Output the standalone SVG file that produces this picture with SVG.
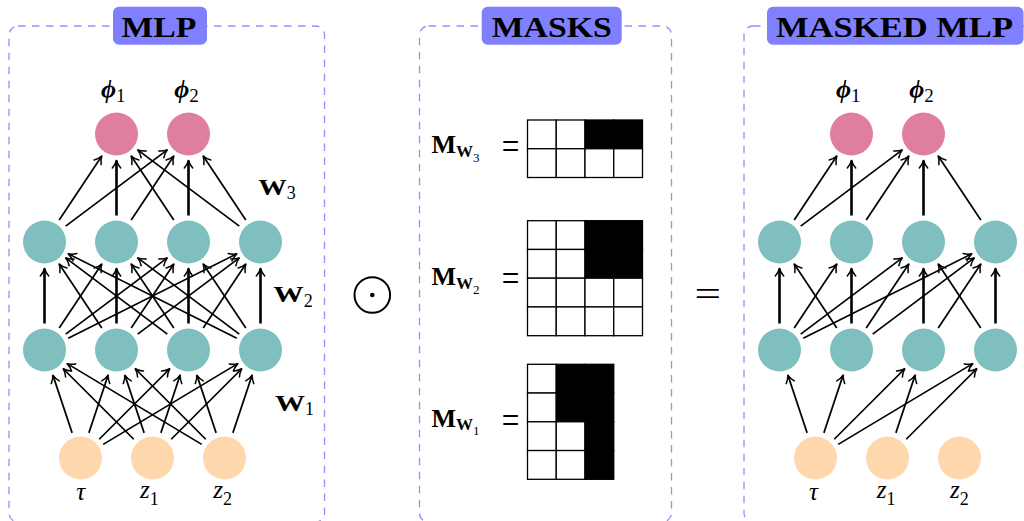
<svg xmlns="http://www.w3.org/2000/svg" width="1024" height="521" viewBox="0 0 1024 521">
  <style>
    .panel { fill: none; stroke: #9090ff; stroke-width: 1.3; stroke-dasharray: 7.5 6.5; }
    .title-box { fill: #8080ff; }
    .title { font-family: "Liberation Serif", "DejaVu Serif", serif; font-weight: bold; font-size: 30px; fill: #000; }
    .hid { fill: #80bfbf; }
    .out { fill: #df7f9d; }
    .inp { fill: #ffd7ad; }
    .edge { stroke: #000; stroke-width: 1.7; fill: none; marker-end: url(#arr); }
    .edge.v { stroke-width: 2.6; }
    .lbl { font-family: "Liberation Serif", "DejaVu Serif", serif; fill: #000; }
    .eq { font-family: "Liberation Serif", "DejaVu Serif", serif; fill: #000; font-size: 40px; }
    .cell { stroke: #000; stroke-width: 1.3; fill: #fff; }
    .cell.on { fill: #000; }
  </style>
  <defs>
    <marker id="arr" markerUnits="userSpaceOnUse" markerWidth="12" markerHeight="12" viewBox="-10 -6 12 12" refX="0" refY="0" orient="auto" overflow="visible">
      <path d="M-7.5,-4.2 C-5,-2 -2,-0.6 0,0 C-2,0.6 -5,2 -7.5,4.2" fill="none" stroke="#000" stroke-width="1.5" stroke-linecap="round" stroke-linejoin="round"/>
    </marker>
  </defs>
  <rect width="1024" height="521" fill="#fff"/>

  <!-- panel frames and title tags -->
  <g id="frames">
    <rect class="panel" x="9" y="26" width="315.5" height="496" rx="9"/>
    <rect class="panel" x="419.5" y="26" width="252" height="496" rx="9"/>
    <rect class="panel" x="744" y="26" width="320" height="496" rx="9"/>
    <rect class="title-box" x="113" y="6.7" width="94" height="38" rx="6"/>
    <text class="title" x="121.5" y="37.3" textLength="75" lengthAdjust="spacingAndGlyphs">MLP</text>
    <rect class="title-box" x="481.7" y="6.7" width="140" height="38" rx="6"/>
    <text class="title" x="491.7" y="36.8" textLength="120" lengthAdjust="spacingAndGlyphs">MASKS</text>
    <rect class="title-box" x="767" y="6.7" width="256.5" height="38" rx="6"/>
    <text class="title" x="776" y="37" textLength="237" lengthAdjust="spacingAndGlyphs">MASKED MLP</text>
  </g>

  <!-- full MLP -->
  <g id="mlp">
    <g id="mlp-edges">
      <!-- W1 : inputs to first hidden layer -->
      <line class="edge" x1="72.12" y1="432.86" x2="52.88" y2="375.14"/>
      <line class="edge" x1="88.88" y1="432.86" x2="108.12" y2="375.14"/>
      <line class="edge" x1="99.24" y1="439.26" x2="169.76" y2="368.74"/>
      <line class="edge" x1="103.22" y1="444.37" x2="237.78" y2="363.63"/>
      <line class="edge" x1="133.76" y1="439.26" x2="63.24" y2="368.74"/>
      <line class="edge" x1="144.12" y1="432.86" x2="124.88" y2="375.14"/>
      <line class="edge" x1="160.88" y1="432.86" x2="180.12" y2="375.14"/>
      <line class="edge" x1="171.24" y1="439.26" x2="241.76" y2="368.74"/>
      <line class="edge" x1="201.78" y1="444.37" x2="67.22" y2="363.63"/>
      <line class="edge" x1="205.76" y1="439.26" x2="135.24" y2="368.74"/>
      <line class="edge" x1="216.12" y1="432.86" x2="196.88" y2="375.14"/>
      <line class="edge" x1="232.88" y1="432.86" x2="252.12" y2="375.14"/>
      <!-- W2 : hidden to hidden -->
      <line class="edge v" x1="44.5" y1="323.5" x2="44.5" y2="268.5"/>
      <line class="edge" x1="59.2" y1="327.95" x2="101.8" y2="264.05"/>
      <line class="edge" x1="65.7" y1="334.1" x2="167.3" y2="257.9"/>
      <line class="edge" x1="68.2" y1="338.15" x2="236.8" y2="253.85"/>
      <line class="edge" x1="101.8" y1="327.95" x2="59.2" y2="264.05"/>
      <line class="edge v" x1="116.5" y1="323.5" x2="116.5" y2="268.5"/>
      <line class="edge" x1="131.2" y1="327.95" x2="173.8" y2="264.05"/>
      <line class="edge" x1="137.7" y1="334.1" x2="239.3" y2="257.9"/>
      <line class="edge" x1="167.3" y1="334.1" x2="65.7" y2="257.9"/>
      <line class="edge" x1="173.8" y1="327.95" x2="131.2" y2="264.05"/>
      <line class="edge v" x1="188.5" y1="323.5" x2="188.5" y2="268.5"/>
      <line class="edge" x1="203.2" y1="327.95" x2="245.8" y2="264.05"/>
      <line class="edge" x1="236.8" y1="338.15" x2="68.2" y2="253.85"/>
      <line class="edge" x1="239.3" y1="334.1" x2="137.7" y2="257.9"/>
      <line class="edge" x1="245.8" y1="327.95" x2="203.2" y2="264.05"/>
      <line class="edge v" x1="260.5" y1="323.5" x2="260.5" y2="268.5"/>
      <!-- W3 : hidden to outputs -->
      <line class="edge" x1="59.2" y1="219.95" x2="101.8" y2="156.05"/>
      <line class="edge v" x1="116.5" y1="215.5" x2="116.5" y2="160.5"/>
      <line class="edge" x1="173.8" y1="219.95" x2="131.2" y2="156.05"/>
      <line class="edge" x1="239.3" y1="226.1" x2="137.7" y2="149.9"/>
      <line class="edge" x1="65.7" y1="226.1" x2="167.3" y2="149.9"/>
      <line class="edge" x1="131.2" y1="219.95" x2="173.8" y2="156.05"/>
      <line class="edge v" x1="188.5" y1="215.5" x2="188.5" y2="160.5"/>
      <line class="edge" x1="245.8" y1="219.95" x2="203.2" y2="156.05"/>
    </g>
    <g id="mlp-phi1"><circle class="out" cx="116.5" cy="134" r="21.5"/><text class="lbl" x="101" y="98.3" font-size="26" font-weight="bold" font-style="italic">ϕ<tspan font-size="19" font-weight="normal" font-style="normal" dy="3.4">1</tspan></text></g>
    <g id="mlp-phi2"><circle class="out" cx="188.5" cy="134" r="21.5"/><text class="lbl" x="174.3" y="98.3" font-size="26" font-weight="bold" font-style="italic">ϕ<tspan font-size="19" font-weight="normal" font-style="normal" dy="3.4">2</tspan></text></g>
    <g id="mlp-h2-1"><circle class="hid" cx="44.5" cy="242" r="21.5"/></g>
    <g id="mlp-h2-2"><circle class="hid" cx="116.5" cy="242" r="21.5"/></g>
    <g id="mlp-h2-3"><circle class="hid" cx="188.5" cy="242" r="21.5"/></g>
    <g id="mlp-h2-4"><circle class="hid" cx="260.5" cy="242" r="21.5"/></g>
    <g id="mlp-h1-1"><circle class="hid" cx="44.5" cy="350" r="21.5"/></g>
    <g id="mlp-h1-2"><circle class="hid" cx="116.5" cy="350" r="21.5"/></g>
    <g id="mlp-h1-3"><circle class="hid" cx="188.5" cy="350" r="21.5"/></g>
    <g id="mlp-h1-4"><circle class="hid" cx="260.5" cy="350" r="21.5"/></g>
    <g id="mlp-tau"><circle class="inp" cx="80.5" cy="458" r="21.5"/><text class="lbl" x="80.7" y="500" font-size="25" font-style="italic" text-anchor="middle">τ</text></g>
    <g id="mlp-z1"><circle class="inp" cx="152.5" cy="458" r="21.5"/><text class="lbl" x="140" y="498.3" font-size="25" font-style="italic">z<tspan font-size="18" font-style="normal" dy="6.5">1</tspan></text></g>
    <g id="mlp-z2"><circle class="inp" cx="224.5" cy="458" r="21.5"/><text class="lbl" x="213.3" y="498.3" font-size="25" font-style="italic">z<tspan font-size="18" font-style="normal" dy="6.5">2</tspan></text></g>
    <g id="mlp-weights">
      <text class="lbl" x="258.3" y="195" font-size="23"><tspan font-weight="bold" textLength="28.5" lengthAdjust="spacingAndGlyphs">W</tspan><tspan font-size="18" dy="4.3">3</tspan></text>
      <text class="lbl" x="273.3" y="301.7" font-size="23"><tspan font-weight="bold" textLength="30.5" lengthAdjust="spacingAndGlyphs">W</tspan><tspan font-size="18" dy="5">2</tspan></text>
      <text class="lbl" x="275" y="410.7" font-size="23"><tspan font-weight="bold" textLength="30" lengthAdjust="spacingAndGlyphs">W</tspan><tspan font-size="18" dy="4.3">1</tspan></text>
    </g>
  </g>

  <!-- element-wise product sign -->
  <g id="odot">
    <circle cx="372.3" cy="295" r="17.8" fill="none" stroke="#000" stroke-width="2"/>
    <circle cx="372.3" cy="295" r="2.3" fill="#000"/>
  </g>

  <!-- mask matrices -->
  <g id="mask-w3">
    <text class="lbl" x="431.5" y="153" font-size="26"><tspan font-weight="bold">M</tspan><tspan font-size="17" font-weight="bold" dy="3.7">W</tspan><tspan font-size="13" dy="5">3</tspan></text>
    <text class="eq" x="501.7" y="160" textLength="17.6" lengthAdjust="spacingAndGlyphs">=</text>
    <rect class="cell" x="527.5" y="120" width="28.75" height="28.75"/>
    <rect class="cell" x="556.25" y="120" width="28.75" height="28.75"/>
    <rect class="cell on" x="585" y="120" width="28.75" height="28.75"/>
    <rect class="cell on" x="613.75" y="120" width="28.75" height="28.75"/>
    <rect class="cell" x="527.5" y="148.75" width="28.75" height="28.75"/>
    <rect class="cell" x="556.25" y="148.75" width="28.75" height="28.75"/>
    <rect class="cell" x="585" y="148.75" width="28.75" height="28.75"/>
    <rect class="cell" x="613.75" y="148.75" width="28.75" height="28.75"/>
  </g>
  <g id="mask-w2">
    <text class="lbl" x="431.5" y="285" font-size="26"><tspan font-weight="bold">M</tspan><tspan font-size="17" font-weight="bold" dy="3.7">W</tspan><tspan font-size="13" dy="5">2</tspan></text>
    <text class="eq" x="501.7" y="292" textLength="17.6" lengthAdjust="spacingAndGlyphs">=</text>
    <rect class="cell" x="527.5" y="220.7" width="28.75" height="28.75"/>
    <rect class="cell" x="556.25" y="220.7" width="28.75" height="28.75"/>
    <rect class="cell on" x="585" y="220.7" width="28.75" height="28.75"/>
    <rect class="cell on" x="613.75" y="220.7" width="28.75" height="28.75"/>
    <rect class="cell" x="527.5" y="249.45" width="28.75" height="28.75"/>
    <rect class="cell" x="556.25" y="249.45" width="28.75" height="28.75"/>
    <rect class="cell on" x="585" y="249.45" width="28.75" height="28.75"/>
    <rect class="cell on" x="613.75" y="249.45" width="28.75" height="28.75"/>
    <rect class="cell" x="527.5" y="278.2" width="28.75" height="28.75"/>
    <rect class="cell" x="556.25" y="278.2" width="28.75" height="28.75"/>
    <rect class="cell" x="585" y="278.2" width="28.75" height="28.75"/>
    <rect class="cell" x="613.75" y="278.2" width="28.75" height="28.75"/>
    <rect class="cell" x="527.5" y="306.95" width="28.75" height="28.75"/>
    <rect class="cell" x="556.25" y="306.95" width="28.75" height="28.75"/>
    <rect class="cell" x="585" y="306.95" width="28.75" height="28.75"/>
    <rect class="cell" x="613.75" y="306.95" width="28.75" height="28.75"/>
  </g>
  <g id="mask-w1">
    <text class="lbl" x="431.5" y="426.7" font-size="26"><tspan font-weight="bold">M</tspan><tspan font-size="17" font-weight="bold" dy="3.7">W</tspan><tspan font-size="13" dy="5">1</tspan></text>
    <text class="eq" x="501.7" y="433.7" textLength="17.6" lengthAdjust="spacingAndGlyphs">=</text>
    <rect class="cell" x="527.5" y="364.3" width="28.75" height="28.75"/>
    <rect class="cell on" x="556.25" y="364.3" width="28.75" height="28.75"/>
    <rect class="cell on" x="585" y="364.3" width="28.75" height="28.75"/>
    <rect class="cell" x="527.5" y="393.05" width="28.75" height="28.75"/>
    <rect class="cell on" x="556.25" y="393.05" width="28.75" height="28.75"/>
    <rect class="cell on" x="585" y="393.05" width="28.75" height="28.75"/>
    <rect class="cell" x="527.5" y="421.8" width="28.75" height="28.75"/>
    <rect class="cell" x="556.25" y="421.8" width="28.75" height="28.75"/>
    <rect class="cell on" x="585" y="421.8" width="28.75" height="28.75"/>
    <rect class="cell" x="527.5" y="450.55" width="28.75" height="28.75"/>
    <rect class="cell" x="556.25" y="450.55" width="28.75" height="28.75"/>
    <rect class="cell on" x="585" y="450.55" width="28.75" height="28.75"/>
  </g>

  <!-- equals sign -->
  <g id="equals">
    <text class="lbl" x="694.5" y="306" font-size="36" textLength="26.5" lengthAdjust="spacingAndGlyphs">=</text>
  </g>

  <!-- masked MLP -->
  <g id="masked-mlp" transform="translate(735,0)">
    <g id="masked-edges">
      <!-- W1 masked -->
      <line class="edge" x1="72.12" y1="432.86" x2="52.88" y2="375.14"/>
      <line class="edge" x1="88.88" y1="432.86" x2="108.12" y2="375.14"/>
      <line class="edge" x1="99.24" y1="439.26" x2="169.76" y2="368.74"/>
      <line class="edge" x1="103.22" y1="444.37" x2="237.78" y2="363.63"/>
      <line class="edge" x1="160.88" y1="432.86" x2="180.12" y2="375.14"/>
      <line class="edge" x1="171.24" y1="439.26" x2="241.76" y2="368.74"/>
      <!-- W2 masked -->
      <line class="edge v" x1="44.5" y1="323.5" x2="44.5" y2="268.5"/>
      <line class="edge" x1="59.2" y1="327.95" x2="101.8" y2="264.05"/>
      <line class="edge" x1="65.7" y1="334.1" x2="167.3" y2="257.9"/>
      <line class="edge" x1="68.2" y1="338.15" x2="236.8" y2="253.85"/>
      <line class="edge" x1="101.8" y1="327.95" x2="59.2" y2="264.05"/>
      <line class="edge v" x1="116.5" y1="323.5" x2="116.5" y2="268.5"/>
      <line class="edge" x1="131.2" y1="327.95" x2="173.8" y2="264.05"/>
      <line class="edge" x1="137.7" y1="334.1" x2="239.3" y2="257.9"/>
      <line class="edge v" x1="188.5" y1="323.5" x2="188.5" y2="268.5"/>
      <line class="edge" x1="203.2" y1="327.95" x2="245.8" y2="264.05"/>
      <line class="edge" x1="245.8" y1="327.95" x2="203.2" y2="264.05"/>
      <line class="edge v" x1="260.5" y1="323.5" x2="260.5" y2="268.5"/>
      <!-- W3 masked -->
      <line class="edge" x1="59.2" y1="219.95" x2="101.8" y2="156.05"/>
      <line class="edge v" x1="116.5" y1="215.5" x2="116.5" y2="160.5"/>
      <line class="edge" x1="65.7" y1="226.1" x2="167.3" y2="149.9"/>
      <line class="edge" x1="131.2" y1="219.95" x2="173.8" y2="156.05"/>
      <line class="edge v" x1="188.5" y1="215.5" x2="188.5" y2="160.5"/>
      <line class="edge" x1="245.8" y1="219.95" x2="203.2" y2="156.05"/>
    </g>
    <g id="masked-phi1"><circle class="out" cx="116.5" cy="134" r="21.5"/><text class="lbl" x="101" y="98.3" font-size="26" font-weight="bold" font-style="italic">ϕ<tspan font-size="19" font-weight="normal" font-style="normal" dy="3.4">1</tspan></text></g>
    <g id="masked-phi2"><circle class="out" cx="188.5" cy="134" r="21.5"/><text class="lbl" x="174.3" y="98.3" font-size="26" font-weight="bold" font-style="italic">ϕ<tspan font-size="19" font-weight="normal" font-style="normal" dy="3.4">2</tspan></text></g>
    <g id="masked-h2-1"><circle class="hid" cx="44.5" cy="242" r="21.5"/></g>
    <g id="masked-h2-2"><circle class="hid" cx="116.5" cy="242" r="21.5"/></g>
    <g id="masked-h2-3"><circle class="hid" cx="188.5" cy="242" r="21.5"/></g>
    <g id="masked-h2-4"><circle class="hid" cx="260.5" cy="242" r="21.5"/></g>
    <g id="masked-h1-1"><circle class="hid" cx="44.5" cy="350" r="21.5"/></g>
    <g id="masked-h1-2"><circle class="hid" cx="116.5" cy="350" r="21.5"/></g>
    <g id="masked-h1-3"><circle class="hid" cx="188.5" cy="350" r="21.5"/></g>
    <g id="masked-h1-4"><circle class="hid" cx="260.5" cy="350" r="21.5"/></g>
    <g id="masked-tau"><circle class="inp" cx="80.5" cy="458" r="21.5"/><text class="lbl" x="78.5" y="500" font-size="25" font-style="italic" text-anchor="middle">τ</text></g>
    <g id="masked-z1"><circle class="inp" cx="152.5" cy="458" r="21.5"/><text class="lbl" x="141.7" y="498.3" font-size="25" font-style="italic">z<tspan font-size="18" font-style="normal" dy="6.5">1</tspan></text></g>
    <g id="masked-z2"><circle class="inp" cx="224.5" cy="458" r="21.5"/><text class="lbl" x="215" y="498.3" font-size="25" font-style="italic">z<tspan font-size="18" font-style="normal" dy="6.5">2</tspan></text></g>
  </g>
</svg>
